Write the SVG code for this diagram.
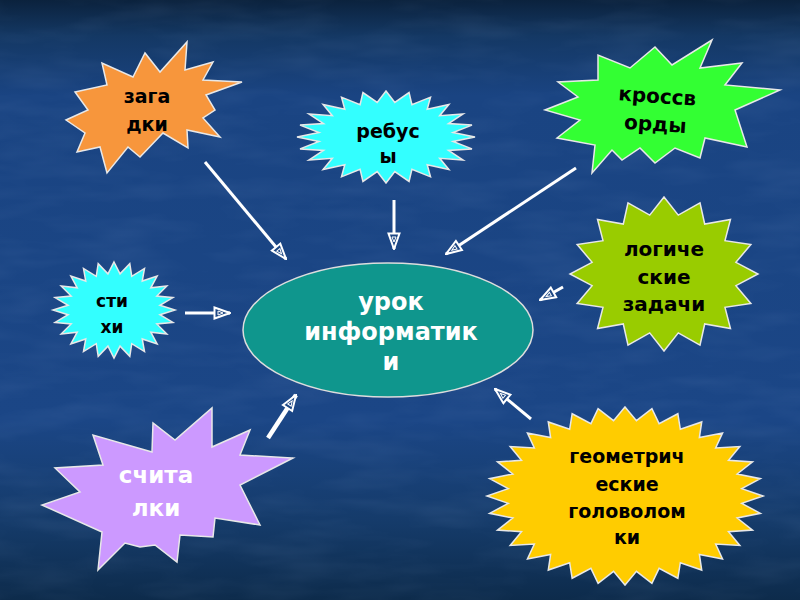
<svg xmlns="http://www.w3.org/2000/svg" xmlns:xlink="http://www.w3.org/1999/xlink" width="800" height="600" viewBox="0 0 800 600">
<defs>
<linearGradient id="bg" x1="0" y1="0" x2="0" y2="1">
<stop offset="0" stop-color="#0b223d"/>
<stop offset="0.06" stop-color="#143864"/>
<stop offset="0.16" stop-color="#1a4482"/>
<stop offset="0.7" stop-color="#1b4686"/>
<stop offset="0.87" stop-color="#153b6a"/>
<stop offset="1" stop-color="#0d2b4b"/>
</linearGradient>
<filter id="tex" x="0" y="0" width="1" height="1">
<feTurbulence type="fractalNoise" baseFrequency="0.012 0.05" numOctaves="3" seed="4" result="n"/>
<feColorMatrix in="n" type="matrix" values="0 0 0 0 0.45  0 0 0 0 0.6  0 0 0 0 0.9  0 0 0 0.9 -0.35"/>
</filter>
<polygon id="star16" vector-effect="non-scaling-stroke" points="0,-100 15.2,-76.5 38.3,-92.4 43.3,-64.9 70.7,-70.7 64.9,-43.3 92.4,-38.3 76.5,-15.2 100,0 76.5,15.2 92.4,38.3 64.9,43.3 70.7,70.7 43.3,64.9 38.3,92.4 15.2,76.5 0,100 -15.2,76.5 -38.3,92.4 -43.3,64.9 -70.7,70.7 -64.9,43.3 -92.4,38.3 -76.5,15.2 -100,0 -76.5,-15.2 -92.4,-38.3 -64.9,-43.3 -70.7,-70.7 -43.3,-64.9 -38.3,-92.4 -15.2,-76.5"/>
<polygon id="star24" vector-effect="non-scaling-stroke" points="0,-100 9.9,-75.3 25.9,-96.6 29.1,-70.2 50,-86.6 46.3,-60.3 70.7,-70.7 60.3,-46.3 86.6,-50 70.2,-29.1 96.6,-25.9 75.3,-9.9 100,0 75.3,9.9 96.6,25.9 70.2,29.1 86.6,50 60.3,46.3 70.7,70.7 46.3,60.3 50,86.6 29.1,70.2 25.9,96.6 9.9,75.3 0,100 -9.9,75.3 -25.9,96.6 -29.1,70.2 -50,86.6 -46.3,60.3 -70.7,70.7 -60.3,46.3 -86.6,50 -70.2,29.1 -96.6,25.9 -75.3,9.9 -100,0 -75.3,-9.9 -96.6,-25.9 -70.2,-29.1 -86.6,-50 -60.3,-46.3 -70.7,-70.7 -46.3,-60.3 -50,-86.6 -29.1,-70.2 -25.9,-96.6 -9.9,-75.3"/>
<polygon id="star32" vector-effect="non-scaling-stroke" points="0,-100 8.3,-84.6 19.5,-98.1 24.7,-81.3 38.3,-92.4 40.1,-75 55.6,-83.2 53.9,-65.7 70.7,-70.7 65.7,-53.9 83.2,-55.6 75,-40.1 92.4,-38.3 81.3,-24.7 98.1,-19.5 84.6,-8.3 100,0 84.6,8.3 98.1,19.5 81.3,24.7 92.4,38.3 75,40.1 83.2,55.6 65.7,53.9 70.7,70.7 53.9,65.7 55.6,83.2 40.1,75 38.3,92.4 24.7,81.3 19.5,98.1 8.3,84.6 0,100 -8.3,84.6 -19.5,98.1 -24.7,81.3 -38.3,92.4 -40.1,75 -55.6,83.2 -53.9,65.7 -70.7,70.7 -65.7,53.9 -83.2,55.6 -75,40.1 -92.4,38.3 -81.3,24.7 -98.1,19.5 -84.6,8.3 -100,0 -84.6,-8.3 -98.1,-19.5 -81.3,-24.7 -92.4,-38.3 -75,-40.1 -83.2,-55.6 -65.7,-53.9 -70.7,-70.7 -53.9,-65.7 -55.6,-83.2 -40.1,-75 -38.3,-92.4 -24.7,-81.3 -19.5,-98.1 -8.3,-84.6"/>
<marker id="ah" viewBox="0 0 18 14" refX="17" refY="7" markerWidth="18" markerHeight="14" markerUnits="userSpaceOnUse" orient="auto">
<polygon points="1.5,1.5 17,7 1.5,12.5" fill="#1d4784" stroke="#ffffff" stroke-width="2" stroke-linejoin="miter"/>
<polygon points="5,5 10,7 5,9" fill="none" stroke="#ffffff" stroke-width="1"/>
</marker>
</defs>
<style>
.star { stroke: #e8e8e8; stroke-width: 1.5; stroke-linejoin: miter; }
.lbl { font-family: "DejaVu Sans", "Liberation Sans", sans-serif; font-weight: bold; text-anchor: middle; fill: #000000; }
.wlbl { font-family: "DejaVu Sans", "Liberation Sans", sans-serif; font-weight: bold; text-anchor: middle; fill: #ffffff; }
.conn line { stroke: #ffffff; stroke-width: 3; marker-end: url(#ah); }
</style>

<rect x="0" y="0" width="800" height="600" fill="url(#bg)"/>
<rect x="0" y="0" width="800" height="600" filter="url(#tex)" opacity="0.15"/>

<g id="center">
<ellipse cx="388" cy="330" rx="145" ry="67" fill="#0f968d" stroke="#dddddd" stroke-width="1.5"/>
<text class="wlbl" font-size="24" x="391" y="310">урок</text>
<text class="wlbl" font-size="24" x="391" y="340">информатик</text>
<text class="wlbl" font-size="24" x="391" y="370">и</text>
</g>

<g id="zagadki">
<polygon class="star" fill="#f7963c" points="187,42 185,70 213,62 203,80 242,82 206,95 215,110 203,118 220,137 187,130 188,148 163,133 140,157 128,147 107,173 100,147 77,152 85,133 66,120 88,110 75,92 107,85 102,63 133,77 145,53 160,72"/>
<text class="lbl" font-size="19" x="147" y="103">зага</text>
<text class="lbl" font-size="19" x="147" y="131">дки</text>
</g>

<g id="rebusy">
<use xlink:href="#star24" href="#star24" class="star" fill="#33ffff" transform="translate(386,137) scale(0.89,0.46)"/>
<text class="lbl" font-size="19" x="388" y="138">ребус</text>
<text class="lbl" font-size="19" x="388" y="163">ы</text>
</g>

<g id="krossvordy">
<polygon class="star" fill="#33ff33" points="712,40 700,68 742,63 725,85 780,90 735,110 747,147 705,138 700,158 675,148 655,163 640,148 622,160 612,150 592,173 595,145 557,138 580,120 545,110 578,97 558,82 598,80 598,55 630,68 655,47 672,65"/>
<g transform="rotate(4 656 115)">
<text class="lbl" font-size="20" x="656" y="103">кроссв</text>
<text class="lbl" font-size="20" x="656" y="131">орды</text>
</g>
</g>

<g id="logicheskie">
<use xlink:href="#star16" href="#star16" class="star" fill="#99cc00" transform="translate(664,274) scale(0.94,0.77)"/>
<text class="lbl" font-size="20" x="664" y="256">логиче</text>
<text class="lbl" font-size="20" x="664" y="284">ские</text>
<text class="lbl" font-size="20" x="664" y="311">задачи</text>
</g>

<g id="stihi">
<use xlink:href="#star24" href="#star24" class="star" fill="#33ffff" transform="translate(114,310) scale(0.61,0.48)"/>
<text class="lbl" font-size="17" x="112" y="307">сти</text>
<text class="lbl" font-size="17" x="112" y="333">хи</text>
</g>

<g id="schitalki">
<polygon class="star" fill="#cc99ff" points="212,408 212,447 250,430 240,455 293,458 240,485 260,525 215,518 213,537 180,535 177,562 155,545 140,547 125,543 98,570 102,532 42,505 80,492 55,468 103,465 93,435 152,452 153,423 175,440"/>
<text class="wlbl" font-size="23" x="156" y="483">счита</text>
<text class="wlbl" font-size="23" x="156" y="516">лки</text>
</g>

<g id="geometricheskie">
<use xlink:href="#star32" href="#star32" class="star" fill="#ffcc00" transform="translate(625,496) scale(1.38,0.89)"/>
<text class="lbl" font-size="19" x="627" y="463">геометрич</text>
<text class="lbl" font-size="19" x="627" y="491">еские</text>
<text class="lbl" font-size="19" x="627" y="518">головолом</text>
<text class="lbl" font-size="19" x="627" y="544">ки</text>
</g>

<g id="connectors" class="conn">
<line x1="205" y1="162" x2="286" y2="259"/>
<line x1="394" y1="200" x2="394" y2="249"/>
<line x1="576" y1="168" x2="446" y2="254"/>
<line x1="563" y1="287" x2="540" y2="300"/>
<line x1="185" y1="313" x2="230" y2="313"/>
<line x1="268" y1="438" x2="296" y2="395" style="stroke-width:4.5"/>
<line x1="531" y1="419" x2="495" y2="389"/>
</g>
</svg>
